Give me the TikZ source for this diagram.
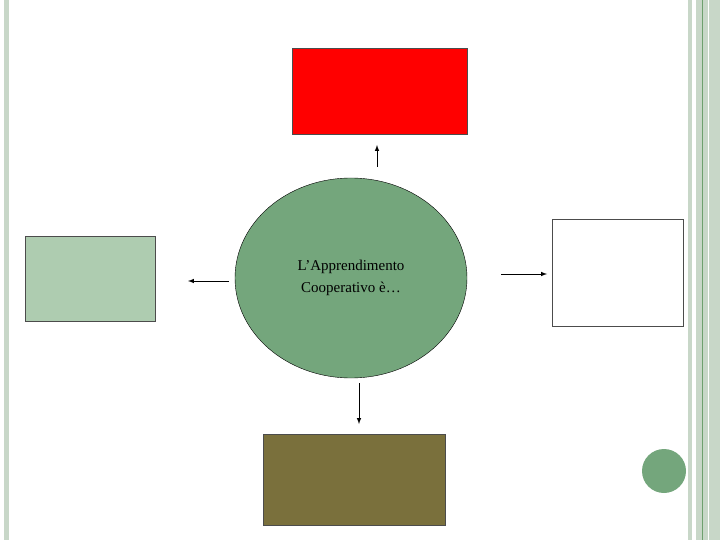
\documentclass[tikz,border=0pt]{standalone}
\usepackage{fontspec}
\setmainfont{Liberation Serif}
\usetikzlibrary{shapes.geometric}
\definecolor{bord}{RGB}{200,215,200}
\definecolor{bordd}{RGB}{110,160,110}
\definecolor{ellg}{RGB}{116,166,124}
\definecolor{lgreen}{RGB}{174,204,176}
\definecolor{olive}{RGB}{122,112,60}
\begin{document}
\begin{tikzpicture}[x=1pt,y=-1pt,
  box/.style={draw=black!70,line width=0.8pt},
  arr/.style={-latex,line width=1pt}]
\useasboundingbox (0,0) rectangle (720,540);
\fill[bord] (4,0) rectangle (9,540);
\fill[bord] (688,0) rectangle (692,540);
\fill[bord] (696,0) rectangle (708,540);
\fill[bord] (709,0) rectangle (720,540);
\draw[bordd,line width=0.8pt] (702.5,0) -- (702.5,540);
\node[box,fill=red,minimum width=175,minimum height=86,inner sep=0] (top) at (379.5,91) {};
\node[box,fill=lgreen,minimum width=130,minimum height=85,inner sep=0] (left) at (90,278.5) {};
\node[box,fill=white,minimum width=131,minimum height=107,inner sep=0] (right) at (617.5,272.5) {};
\node[box,fill=olive,minimum width=182,minimum height=91,inner sep=0] (bot) at (354,479.5) {};
\node[draw=black,fill=ellg,ellipse,minimum width=232,minimum height=200,inner sep=0,
  align=center,font=\fontsize{15}{22}\selectfont] (e) at (351,278) {L’Apprendimento\\Cooperativo è…};
\node[circle,fill=ellg,minimum size=44,inner sep=0] (c) at (664,471) {};
\coordinate (u1) at (377,167); \coordinate (u2) at (377,145);
\coordinate (l1) at (229,281); \coordinate (l2) at (188,281);
\coordinate (r1) at (501,274); \coordinate (r2) at (547,274);
\coordinate (d1) at (359,383); \coordinate (d2) at (359,424);
\draw[arr] (u1) -- (u2);
\draw[arr] (l1) -- (l2);
\draw[arr] (r1) -- (r2);
\draw[arr] (d1) -- (d2);
\end{tikzpicture}
\end{document}
